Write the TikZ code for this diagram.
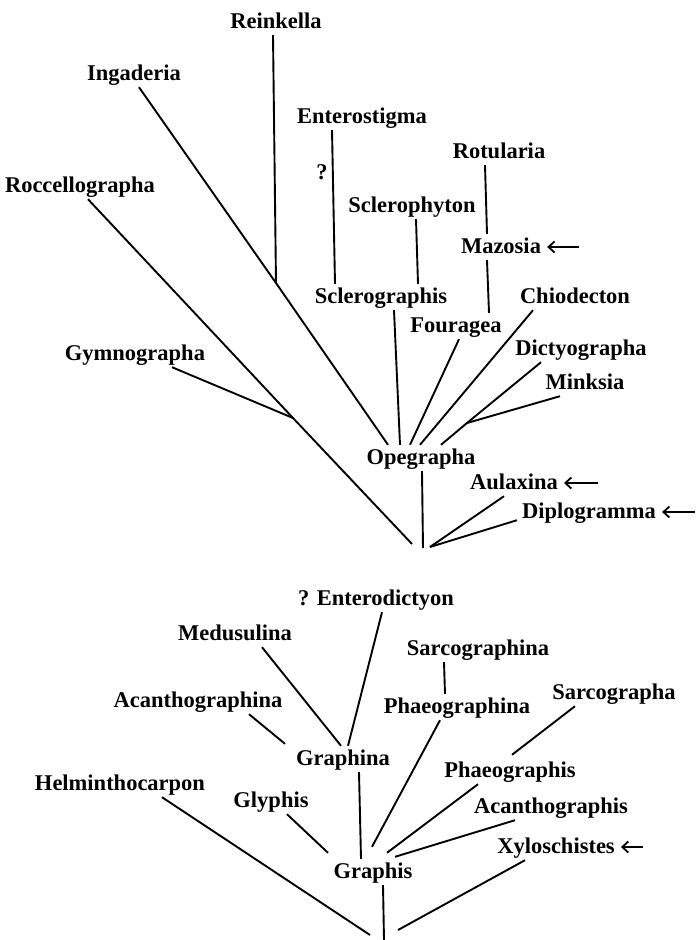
\documentclass[tikz,border=0pt]{standalone}
\usepackage{fontspec}
\setmainfont{Liberation Serif}
\usetikzlibrary{arrows.meta}

\begin{document}
\begin{tikzpicture}[
    x=1pt, y=-1pt,
    taxon/.style={anchor=base, inner sep=3pt, text height=16pt, text depth=4pt,
                  font=\fontsize{22.5}{27}\selectfont\bfseries},
    br/.style={line width=1.9pt},
    ptr/.style={-{Straight Barb[length=6pt,width=11pt]}, line width=1.8pt},
]
    \useasboundingbox (0,0) rectangle (697,940);

    % Opegrapha group (upper tree)
    \node[taxon] (reinkella)      at (276,28)  {Reinkella};
    \node[taxon] (ingaderia)      at (134,80)  {Ingaderia};
    \node[taxon] (roccellographa) at (80,192)  {Roccellographa};
    \node[taxon] (gymnographa)    at (135,360) {Gymnographa};
    \node[taxon] (enterostigma)   at (362,123) {Enterostigma};
    \node[taxon] (query)          at (322,179) {?};
    \node[taxon] (sclerophyton)   at (412,212) {Sclerophyton};
    \node[taxon] (rotularia)      at (499,158) {Rotularia};
    \node[taxon] (mazosia)        at (501,253) {Mazosia};
    \node[taxon] (sclerographis)  at (381,303) {Sclerographis};
    \node[taxon] (chiodecton)     at (575,303) {Chiodecton};
    \node[taxon] (fouragea)       at (456,332) {Fouragea};
    \node[taxon] (dictyographa)   at (581,355) {Dictyographa};
    \node[taxon] (minksia)        at (585,389) {Minksia};
    \node[taxon] (opegrapha)      at (421,464) {Opegrapha};
    \node[taxon] (aulaxina)       at (514,489) {Aulaxina};
    \node[taxon] (diplogramma)    at (589,518) {Diplogramma};

    % Junctions
    \coordinate (upperroot)     at (423,548);
    \coordinate (reinkella-j)   at (276,283);
    \coordinate (gymnographa-j) at (293,418);
    \coordinate (minksia-j)     at (467,423);

    % Branches
    \draw[br] ([xshift=-3pt]reinkella.south) -- (reinkella-j);
    \draw[br] ([xshift=5pt]ingaderia.south) -- (reinkella-j) -- ([xshift=-33pt]opegrapha.north);
    \draw[br] ([xshift=8pt]roccellographa.south) -- (gymnographa-j) -- ([shift={(-11,-4)}]upperroot);
    \draw[br] ([xshift=37pt]gymnographa.south) -- (gymnographa-j);
    \draw[br] ([xshift=-30pt]enterostigma.south) -- ([xshift=-46pt]sclerographis.north);
    \draw[br] ([xshift=4pt]sclerophyton.south) -- ([xshift=37pt]sclerographis.north);
    \draw[br] ([xshift=-14pt]rotularia.south) -- ([xshift=-14pt]mazosia.north);
    \draw[br] ([xshift=-14pt]mazosia.south) -- ([xshift=33pt]fouragea.north);
    \draw[br] ([xshift=13pt]sclerographis.south) -- ([xshift=-21pt]opegrapha.north);
    \draw[br] ([xshift=3pt]fouragea.south) -- ([xshift=-11pt]opegrapha.north);
    \draw[br] ([xshift=-42pt]chiodecton.south) -- ([xshift=-1pt]opegrapha.north);
    \draw[br] ([xshift=-40pt]dictyographa.south) -- (minksia-j) -- ([xshift=20pt]opegrapha.north);
    \draw[br] ([xshift=-25pt]minksia.south) -- (minksia-j);
    \draw[br] ([xshift=1pt]opegrapha.south) -- (upperroot);
    \draw[br] ([xshift=-10pt]aulaxina.south) -- ([shift={(7,-1)}]upperroot);
    \draw[br] ([shift={(-2,-5)}]diplogramma.south west) -- ([shift={(7,-1)}]upperroot);

    % Graphis group (lower tree)
    \node[taxon] (enterodictyon)   at (376,605) {? Enterodictyon};
    \node[taxon] (medusulina)      at (235,640) {Medusulina};
    \node[taxon] (acanthographina) at (198,707) {Acanthographina};
    \node[taxon] (graphina)        at (343,765) {Graphina};
    \node[taxon] (helminthocarpon) at (120,790) {Helminthocarpon};
    \node[taxon] (glyphis)         at (271,807) {Glyphis};
    \node[taxon] (graphis)         at (373,878) {Graphis};
    \node[taxon] (sarcographina)   at (478,655) {Sarcographina};
    \node[taxon] (phaeographina)   at (457,713) {Phaeographina};
    \node[taxon] (sarcographa)     at (614,699) {Sarcographa};
    \node[taxon] (phaeographis)    at (510,777) {Phaeographis};
    \node[taxon] (acanthographis)  at (551,813) {Acanthographis};
    \node[taxon] (xyloschistes)    at (556,853) {Xyloschistes};

    \coordinate (lowerroot) at (384,940);

    % Branches
    \draw[br] ([xshift=6pt]enterodictyon.south) -- ([xshift=5pt]graphina.north);
    \draw[br] ([xshift=27pt]medusulina.south) -- ([xshift=-2pt]graphina.north);
    \draw[br] ([xshift=51pt]acanthographina.south) -- ([shift={(-58,-2)}]graphina.north);
    \draw[br] ([xshift=16pt]graphina.south) -- ([xshift=-12pt]graphis.north);
    \draw[br] ([xshift=42pt]helminthocarpon.south) -- ([shift={(-14,-5)}]lowerroot);
    \draw[br] ([xshift=16pt]glyphis.south) -- ([shift={(-45,-6)}]graphis.north);
    \draw[br] ([xshift=10pt]graphis.south) -- (lowerroot);
    \draw[br] ([xshift=-34pt]sarcographina.south) -- ([xshift=-12pt]phaeographina.north);
    \draw[br] ([xshift=-17pt]phaeographina.south) -- ([shift={(-1,-12)}]graphis.north);
    \draw[br] ([xshift=-39pt]sarcographa.south) -- ([shift={(2,-3)}]phaeographis.north);
    \draw[br] ([xshift=-32pt]phaeographis.south) -- ([shift={(14,-6)}]graphis.north);
    \draw[br] ([xshift=-36pt]acanthographis.south) -- ([shift={(22,-2)}]graphis.north);
    \draw[br] ([xshift=-31pt]xyloschistes.south) -- ([shift={(14,-10)}]lowerroot);

    % Arrows pointing at genera
    \foreach \n/\d in {mazosia/35, aulaxina/37, diplogramma/36, xyloschistes/25}
        \draw[ptr] ([xshift=\d pt]\n.east) -- ([xshift=3pt]\n.east);
\end{tikzpicture}
\end{document}
